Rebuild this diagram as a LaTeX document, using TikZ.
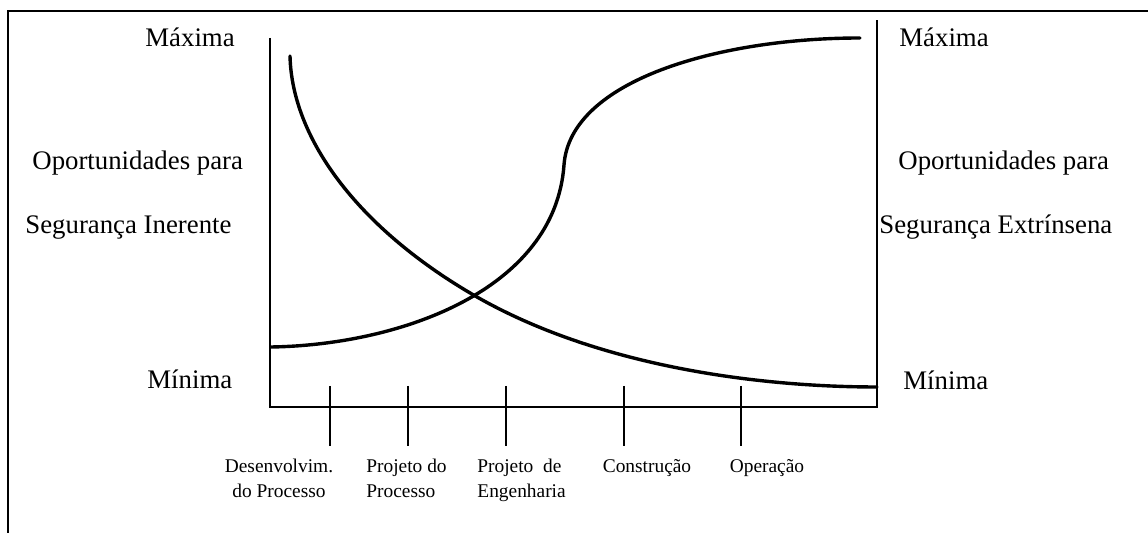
\documentclass[tikz,border=0pt]{standalone}
\usepackage{fontspec}
\setmainfont{Liberation Serif}
\begin{document}
\begin{tikzpicture}[x=0.5pt,y=-0.5pt,
  big/.style={font=\fontsize{13.4}{16}\selectfont, inner sep=0pt, anchor=base west},
  small/.style={font=\fontsize{9.7}{12.5}\selectfont, inner sep=0pt, anchor=north},
  axisline/.style={line width=1.25pt},
  curveline/.style={line width=1.7pt, line cap=round},
  frameline/.style={line width=1.2pt}]
\useasboundingbox (0,0) rectangle (1148,533);
% frame
\draw[frameline] (8,533) -- (8,11) -- (1148,11);
% axes
\coordinate (ltop) at (270,38);
\coordinate (origin) at (270,407);
\coordinate (rbot) at (877,407);
\coordinate (rtop) at (877,20);
\draw[axisline] (ltop) -- (origin) -- (rbot) -- (rtop);
% ticks
\foreach \x/\n in {330/t1,408/t2,506/t3,624/t4,741/t5}{
  \coordinate (\n a) at (\x,386);
  \coordinate (\n b) at (\x,446);
  \draw[axisline] (\n a) -- (\n b);
}
% increasing S-curve (extrinsic safety)
\coordinate (sStart) at (271,347);
\coordinate (sMid) at (564,165);
\coordinate (sEnd) at (860,38);
\draw[curveline] (sStart) .. controls (400,345) and (555,290) .. (sMid)
  .. controls (570,80) and (720,38) .. (sEnd);
% decreasing curve (inherent safety)
\coordinate (dStart) at (290,56);
\coordinate (cross) at (477,297);
\coordinate (dEnd) at (877,387);
\draw[curveline] (dStart) .. controls (292,140) and (360,230) .. (cross)
  .. controls (600,367) and (760,387) .. (dEnd);
% big labels
\node[big] (maxL) at (145,47) {Máxima};
\node[big] (opL) at (32,170) {Oportunidades para};
\node[big] (segL) at (25,234) {Segurança Inerente};
\node[big] (minL) at (147,389) {Mínima};
\node[big] (maxR) at (899,47) {Máxima};
\node[big] (opR) at (898,170) {Oportunidades para};
\node[big] (segR) at (879,234) {Segurança Extrínsena};
\node[big] (minR) at (903,390) {Mínima};
% phase labels
\node[small, align=center] (p1) at (279,459) {Desenvolvim.\\do Processo};
\node[small, anchor=north west, align=left] (p2) at (366,459) {Projeto do\\Processo};
\node[small, anchor=north west, align=left] (p3) at (477,459) {Projeto\ \ de\\Engenharia};
\node[small] (p4) at (647,459) {Construção};
\node[small] (p5) at (767,459) {Operação};
\end{tikzpicture}
\end{document}
